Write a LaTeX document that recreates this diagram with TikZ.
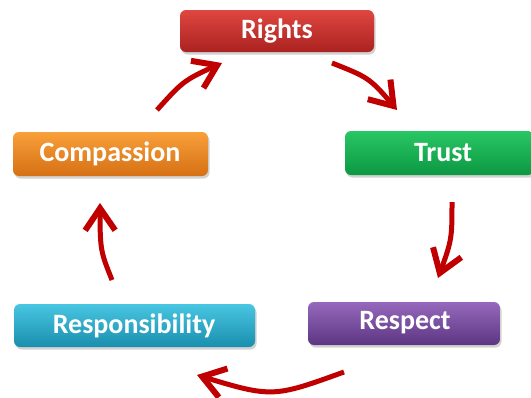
\documentclass[tikz,border=0pt]{standalone}
\usepackage{fontspec}
\setmainfont{Carlito}
\usetikzlibrary{arrows.meta,bending,shadows}
\definecolor{arrowred}{HTML}{C00000}
\tikzset{
  pill/.style={rounded corners=6pt, inner sep=0pt,
    drop shadow={shadow xshift=1.5pt, shadow yshift=-2.5pt, opacity=0.35}},
  lbl/.style={font=\fontsize{28}{30}\selectfont\bfseries, text=white, inner sep=0pt},
  cyc/.style={draw=arrowred, line width=5pt,
    -{Straight Barb[length=22pt,width=30pt,line width=6pt,flex']}}
}
\begin{document}
\begin{tikzpicture}[x=1pt,y=-1pt]
\useasboundingbox (0,0) rectangle (531,397);
\fill[white] (0,0) rectangle (531,397);
% boxes
\shade[pill, top color={rgb,255:red,224;green,70;blue,64}, bottom color={rgb,255:red,170;green,34;blue,32}]
  (180,10) rectangle (374,52);
\node[lbl] (rights) at (277,31) {Rights};
\shade[pill, top color={rgb,255:red,248;green,160;blue,58}, bottom color={rgb,255:red,214;green,112;blue,20}]
  (13,132) rectangle (208,176);
\node[lbl] (comp) at (110,154) {Compassion};
\shade[pill, top color={rgb,255:red,40;green,198;blue,100}, bottom color={rgb,255:red,12;green,152;blue,66}]
  (345,131) rectangle (534,175);
\node[lbl] (trust) at (443,153) {Trust};
\shade[pill, top color={rgb,255:red,72;green,198;blue,226}, bottom color={rgb,255:red,26;green,142;blue,174}]
  (14,304) rectangle (255,347);
\node[lbl] (resp) at (134,326) {Responsibility};
\shade[pill, top color={rgb,255:red,150;green,104;blue,188}, bottom color={rgb,255:red,92;green,54;blue,130}]
  (308,302) rectangle (500,345);
\node[lbl] (respect) at (405,323) {Respect};
% arrow endpoints
\coordinate (a1s) at (157,110); \coordinate (a1e) at (222,63);
\coordinate (a2s) at (332,63);  \coordinate (a2e) at (397,110);
\coordinate (a3s) at (452,202); \coordinate (a3e) at (438,278);
\coordinate (a4s) at (344,372); \coordinate (a4e) at (197,375);
\coordinate (a5s) at (112,280); \coordinate (a5e) at (100,203);
\draw[cyc] (a1s) .. controls (184,80) .. (a1e);
\draw[cyc] (a2s) .. controls (370,78) .. (a2e);
\draw[cyc] (a3s) .. controls (452,240) .. (a3e);
\draw[cyc] (a4s) .. controls (272,398) .. (a4e);
\draw[cyc] (a5s) .. controls (100,250) .. (a5e);
\end{tikzpicture}
\end{document}
